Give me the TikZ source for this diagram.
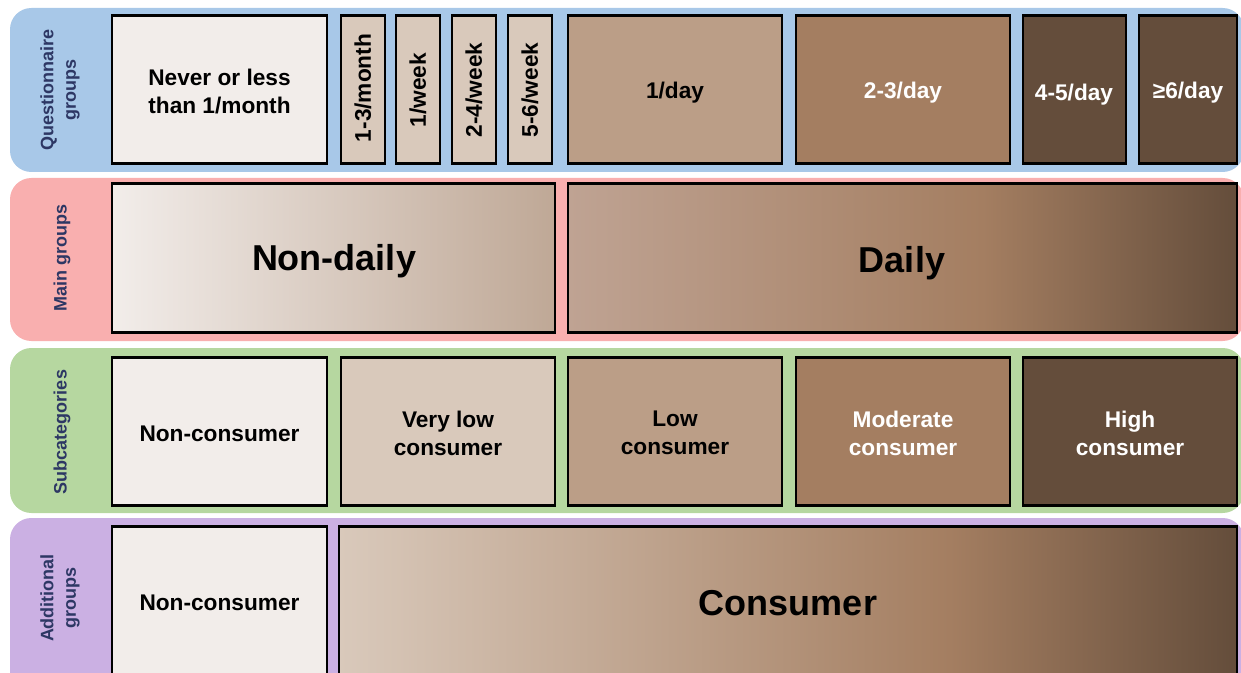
\documentclass[tikz,border=0pt]{standalone}
\usepackage{fontspec}
\setmainfont{Liberation Sans}

\definecolor{bandBlue}{RGB}{168,200,232}
\definecolor{bandPink}{RGB}{249,175,175}
\definecolor{bandGreen}{RGB}{182,215,160}
\definecolor{bandPurple}{RGB}{203,176,227}
\definecolor{cSide}{RGB}{45,55,100}
\definecolor{cNon}{RGB}{242,237,234}
\definecolor{cVlow}{RGB}{217,201,187}
\definecolor{cLow}{RGB}{187,158,135}
\definecolor{cMod}{RGB}{164,126,97}
\definecolor{cHigh}{RGB}{100,77,59}
\definecolor{cNDr}{RGB}{191,168,150}
\definecolor{cDayA}{RGB}{191,163,147}

% brown ramps for the two wide boxes (25bp..75bp spans the box)
\pgfdeclarehorizontalshading{dailyshade}{100bp}{color(0bp)=(cDayA); color(25bp)=(cDayA); color(56bp)=(cMod); color(75bp)=(cHigh); color(100bp)=(cHigh)}
\pgfdeclarehorizontalshading{consumershade}{100bp}{color(0bp)=(cVlow); color(25bp)=(cVlow); color(59bp)=(cMod); color(75bp)=(cHigh); color(100bp)=(cHigh)}

\begin{document}
\begin{tikzpicture}[x=0.75pt,y=0.75pt,yscale=-1,xscale=1,
  band/.style={rounded corners=16pt},
  cell/.style={draw=black, line width=2pt},
  txt/.style={inner sep=0.75pt, align=center, font=\fontsize{17}{21}\selectfont\bfseries},
  big/.style={inner sep=0.75pt, font=\fontsize{27}{32}\selectfont\bfseries},
  side/.style={inner sep=0.75pt, align=center, rotate=90, text=cSide, font=\fontsize{13.5}{17}\selectfont\bfseries}]
\useasboundingbox (0,0) rectangle (1241,673);
\clip (0,0) rectangle (1241,673);

%Shape: Rounded Rect [bands]
\fill[band, bandBlue] (10,8) rectangle (1244,172);
\fill[band, bandPink] (10,178) rectangle (1244,341);
\fill[band, bandGreen] (10,348) rectangle (1244,513);
\fill[band, bandPurple] (10,518) rectangle (1244,700);

%Shape: Rectangle [row 1]
\draw[cell, fill=cNon] (112,15.5) rectangle (327,163.5);
\draw[cell, fill=cVlow] (341,15.5) rectangle (385,163.5);
\draw[cell, fill=cVlow] (396,15.5) rectangle (440,163.5);
\draw[cell, fill=cVlow] (452,15.5) rectangle (496,163.5);
\draw[cell, fill=cVlow] (508,15.5) rectangle (552,163.5);
\draw[cell, fill=cLow] (568,15.5) rectangle (782,163.5);
\draw[cell, fill=cMod] (796,15.5) rectangle (1010,163.5);
\draw[cell, fill=cHigh] (1023,15.5) rectangle (1126,163.5);
\draw[cell, fill=cHigh] (1139,15.5) rectangle (1237,163.5);

%Shape: Rectangle [row 2]
\draw[cell, left color=cNon, right color=cNDr] (112,183.5) rectangle (555,332.5);
\draw[cell, shading=dailyshade] (568,183.5) rectangle (1237,332.5);

%Shape: Rectangle [row 3]
\draw[cell, fill=cNon] (112,357.5) rectangle (327,505.5);
\draw[cell, fill=cVlow] (341,357.5) rectangle (555,505.5);
\draw[cell, fill=cLow] (568,357.5) rectangle (782,505.5);
\draw[cell, fill=cMod] (796,357.5) rectangle (1010,505.5);
\draw[cell, fill=cHigh] (1023,357.5) rectangle (1237,505.5);

%Shape: Rectangle [row 4]
\draw[cell, fill=cNon] (112,526.5) rectangle (327,700);
\draw[cell, shading=consumershade] (339,526.5) rectangle (1237,700);

% Text Node
\draw (60,90) node[side] (sideQ) {Questionnaire\\groups};
\draw (62,258) node[side] (sideM) {Main groups};
\draw (62,432) node[side] (sideS) {Subcategories};
\draw (60,598) node[side] (sideA) {Additional\\groups};

% Text Node
\draw (219.5,92) node[txt] (never) {Never or less\\than 1/month};
\draw (363,88) node[txt, rotate=90] (m13) {1-3/month};
\draw (418,90) node[txt, rotate=90] (w1) {1/week};
\draw (474,90) node[txt, rotate=90] (w24) {2-4/week};
\draw (530,90) node[txt, rotate=90] (w56) {5-6/week};
\draw (675,93) node[txt] (d1) {1/day};
\draw (903,93) node[txt, text=white] (d23) {2-3/day};
\draw (1074,95) node[txt, text=white] (d45) {4-5/day};
\draw (1188,93) node[txt, text=white] (d6) {≥6/day};

% Text Node
\draw (334,261) node[big] (nondaily) {Non-daily};
\draw (902,263) node[big] (daily) {Daily};

% Text Node
\draw (219.5,434) node[txt] (sNon) {Non-consumer};
\draw (448,433) node[txt] (sVlow) {Very low\\consumer};
\draw (675,433) node[txt] (sLow) {Low\\consumer};
\draw (903,433) node[txt, text=white] (sMod) {Moderate\\consumer};
\draw (1130,433) node[txt, text=white] (sHigh) {High\\consumer};

% Text Node
\draw (219.5,603) node[txt] (aNon) {Non-consumer};
\draw (788,603) node[big] (aCons) {Consumer};

\end{tikzpicture}
\end{document}
